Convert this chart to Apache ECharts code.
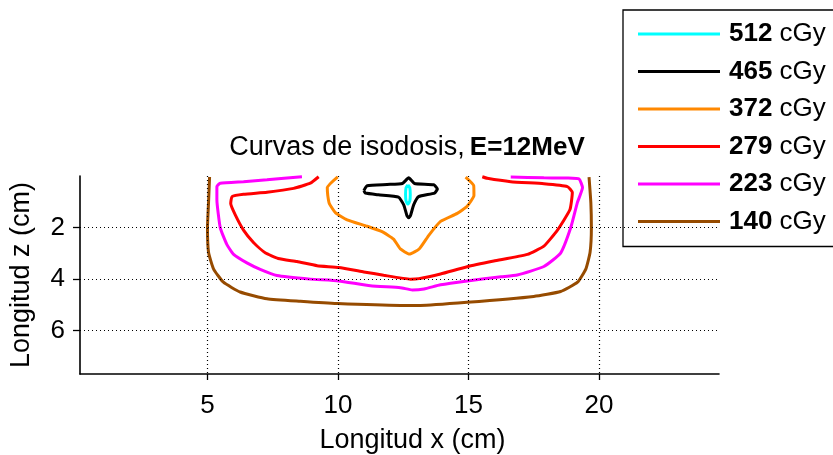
<!DOCTYPE html>
<html>
<head>
<meta charset="utf-8">
<script src="https://cdn.jsdelivr.net/npm/echarts@6/dist/echarts.min.js"></script>
<style>html,body{margin:0;padding:0;background:#fff;}#c{width:833px;height:455px;}</style>
</head>
<body>
<div id="c"></div>
<script>
// ---- data ----
const doseLevels = [512, 465, 372, 279, 223, 140];
const doseNames = ['512 cGy', '465 cGy', '372 cGy', '279 cGy', '223 cGy', '140 cGy'];
const xTicks = [5, 10, 15, 20];
const zTicks = [2, 4, 6];

const iso512 = [[12.68,0.34],[12.75,0.45],[12.77,0.72],[12.75,0.98],[12.68,1.09],[12.61,0.98],[12.59,0.72],[12.61,0.45],[12.68,0.34]];
const iso465 = [[10.99,0.57],[11.12,0.38],[11.88,0.33],[12.47,0.29],[12.71,0.07],[12.93,0.29],[13.67,0.34],[13.81,0.5],[13.7,0.66],[13.09,0.8],[12.9,1.12],[12.78,1.53],[12.71,1.62],[12.64,1.53],[12.52,1.12],[12.32,0.82],[11.55,0.73],[11.05,0.66],[10.99,0.57]];
const iso372 = [[9.99,0.03],[9.59,0.45],[9.61,0.76],[9.67,1.07],[9.9,1.42],[10.35,1.7],[11.12,1.95],[11.69,2.16],[12.13,2.45],[12.39,2.83],[12.74,3.03],[13.12,2.82],[13.48,2.3],[13.93,1.76],[14.57,1.45],[14.95,1.17],[15.21,0.76],[15.2,0.37],[14.89,0.04]];
const iso279 = [[9.26,0.03],[8.94,0.28],[8.3,0.48],[7.28,0.63],[6.38,0.71],[5.94,0.8],[5.89,1.07],[6.06,1.5],[6.38,2.1],[6.77,2.59],[7.21,2.98],[7.71,3.2],[8.43,3.32],[9.2,3.48],[10.03,3.55],[10.99,3.72],[11.75,3.85],[12.78,4.0],[13.1,3.98],[13.93,3.8],[14.95,3.52],[15.97,3.3],[17.26,3.04],[17.89,2.72],[18.41,2.1],[18.89,1.3],[18.98,0.64],[18.79,0.41],[17.89,0.3],[16.62,0.22],[15.72,0.09],[15.53,0.03]];
const iso223 = [[8.62,0.03],[7.28,0.15],[6.38,0.22],[5.49,0.28],[5.36,0.41],[5.36,0.91],[5.49,2.01],[5.74,2.65],[6.0,3.04],[6.51,3.37],[7.02,3.62],[7.66,3.86],[8.94,4.0],[10.03,4.07],[11.24,4.26],[12.39,4.33],[12.85,4.42],[13.3,4.38],[13.93,4.22],[14.95,4.07],[16.25,3.91],[16.87,3.84],[17.89,3.51],[18.53,2.99],[18.92,2.0],[19.17,1.04],[19.37,0.45],[19.24,0.12],[18.79,0.08],[17.89,0.07],[16.62,0.04]];
const iso140 = [[5.08,0.04],[5.04,1.04],[5.0,2.0],[5.04,2.96],[5.23,3.6],[5.61,4.12],[6.25,4.5],[7.28,4.76],[8.56,4.86],[9.97,4.95],[12.39,5.02],[13.16,5.02],[14.95,4.9],[17.5,4.67],[18.53,4.48],[19.18,4.12],[19.5,3.6],[19.66,2.96],[19.71,2.0],[19.69,1.04],[19.62,0.04]];

const contours = [iso512, iso465, iso372, iso279, iso223, iso140];
const colors = ['#00ffff', '#000000', '#ff8800', '#ff0000', '#ff00ff', '#964b00'];

// ---- chart ----
const chart = echarts.init(document.getElementById('c'), null, {renderer: 'canvas'});
const FONT = 'Liberation Sans, Arial, sans-serif';

const gridLines = [];
xTicks.forEach(v => gridLines.push({xAxis: v}));
zTicks.forEach(v => gridLines.push({yAxis: v}));

const series = contours.map((d, i) => ({
  name: doseNames[i],
  type: 'line',
  data: d,
  showSymbol: false,
  symbol: 'none',
  smooth: 0.15,
  lineStyle: {color: colors[i], width: 3},
  itemStyle: {color: colors[i]},
  z: 3,
  animation: false
}));
series.push({
  type: 'line', data: [], silent: true, z: 1,
  markLine: {
    silent: true, symbol: 'none', animation: false,
    label: {show: false},
    lineStyle: {color: '#000', type: [1, 3], width: 1.2},
    data: gridLines
  }
});

chart.setOption({
  backgroundColor: '#fff',
  animation: false,
  title: {
    text: '{a|Curvas de isodosis,} {b|E=12MeV}',
    left: 402, textAlign: 'center', top: 129,
    textStyle: {
      fontWeight: 'normal',
      rich: {
        a: {fontFamily: FONT, fontSize: 27, fontWeight: 'normal', color: '#000'},
        b: {fontFamily: FONT, fontSize: 26, fontWeight: 'bold', color: '#000'}
      }
    }
  },
  legend: {
    orient: 'vertical',
    left: 623, top: 10,
    padding: [9, 40, 10, 15],
    icon: 'rect',
    itemWidth: 82, itemHeight: 3, itemGap: 7.5,
    backgroundColor: '#fff',
    borderColor: '#000', borderWidth: 1.3,
    data: doseNames,
    formatter: name => '{n|' + name.split(' ')[0] + '} cGy',
    textStyle: {
      fontFamily: FONT, fontSize: 26, color: '#000', lineHeight: 30, height: 30,
      padding: [0, 0, 0, 4],
      rich: {n: {fontFamily: FONT, fontSize: 26, fontWeight: 'bold', color: '#000'}}
    }
  },
  grid: {left: 80, right: 114, top: 176, bottom: 79, containLabel: false},
  xAxis: {
    type: 'value', min: 0.115, max: 24.6,
    name: 'Longitud x (cm)', nameLocation: 'middle', nameGap: 53,
    nameTextStyle: {fontFamily: FONT, fontSize: 27, color: '#000', padding: [0, 0, 0, 26]},
    axisLine: {show: true, onZero: false, lineStyle: {color: '#000', width: 1.6}},
    axisTick: {show: true, length: 6, customValues: xTicks, lineStyle: {color: '#000', width: 1.3}},
    axisLabel: {customValues: xTicks, fontFamily: FONT, fontSize: 26, color: '#000', margin: 19},
    splitLine: {show: false}
  },
  yAxis: {
    type: 'value', inverse: true, min: 0, max: 7.68,
    name: 'Longitud z (cm)', nameLocation: 'middle', nameGap: 45, nameRotate: 90,
    nameTextStyle: {fontFamily: FONT, fontSize: 27, color: '#000'},
    axisLine: {show: true, onZero: false, lineStyle: {color: '#000', width: 1.6}},
    axisTick: {show: true, length: 7, customValues: zTicks, lineStyle: {color: '#000', width: 1.3}},
    axisLabel: {customValues: zTicks, fontFamily: FONT, fontSize: 26, color: '#000', margin: 15},
    splitLine: {show: false}
  },
  series: series
});
</script>
</body>
</html>
